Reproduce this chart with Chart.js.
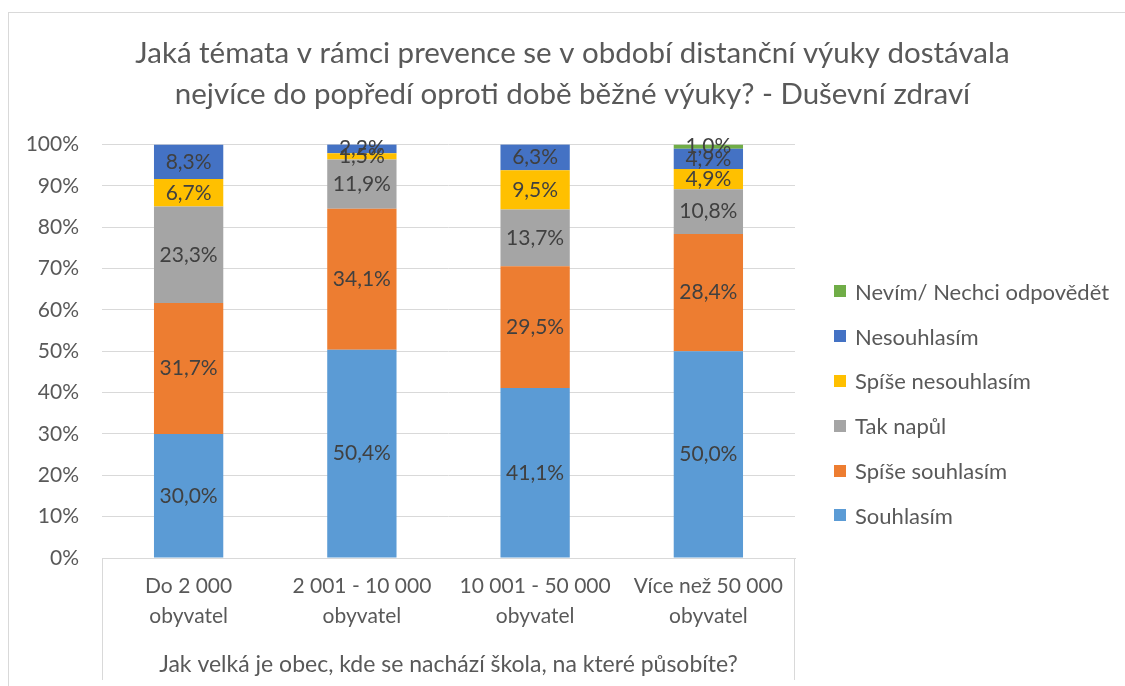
<!DOCTYPE html>
<html lang="cs">
<head>
<meta charset="utf-8">
<title>Duševní zdraví</title>
<script src="https://cdn.jsdelivr.net/npm/chart.js@4.4.0/dist/chart.umd.min.js"></script>
<style>
  html, body { margin: 0; padding: 0; background: #fff; }
  #wrap { position: relative; width: 1125px; height: 686px; overflow: hidden; }
  #legend {
    position: absolute; left: 834px; top: 269px;
    font-family: Lato, "Noto Sans", sans-serif; font-size: 22px; color: #595959;
  }
  #legend .item { display: flex; align-items: center; height: 44.8px; white-space: nowrap; }
  #legend .sw { width: 12px; height: 12px; margin-right: 9px; flex: none; }
</style>
</head>
<body>
<div id="wrap">
  <canvas id="chart" width="1125" height="686"></canvas>
  <div id="legend"></div>
</div>
<script>
// kategorie velikosti obce
const categories = [
  ['Do 2 000', 'obyvatel'],
  ['2 001 - 10 000', 'obyvatel'],
  ['10 001 - 50 000', 'obyvatel'],
  ['Více než 50 000', 'obyvatel']
];

// podíly odpovědí v % (v pořadí kategorií)
const souhlasim         = [30.0, 50.4, 41.1, 50.0];
const spiseSouhlasim    = [31.7, 34.1, 29.5, 28.4];
const takNapul          = [23.3, 11.9, 13.7, 10.8];
const spiseNesouhlasim  = [6.7, 1.5, 9.5, 4.9];
const nesouhlasim       = [8.3, 2.2, 6.3, 4.9];
const nevim             = [0, 0, 0, 1.0];

const yTicks = [0, 10, 20, 30, 40, 50, 60, 70, 80, 90, 100];

const FONT = 'Lato, "Noto Sans", sans-serif';
const TEXT = '#595959';
const GRID = '#D9D9D9';

const series = [
  { label: 'Souhlasím', data: souhlasim, color: '#5B9BD5' },
  { label: 'Spíše souhlasím', data: spiseSouhlasim, color: '#ED7D31' },
  { label: 'Tak napůl', data: takNapul, color: '#A5A5A5' },
  { label: 'Spíše nesouhlasím', data: spiseNesouhlasim, color: '#FFC000' },
  { label: 'Nesouhlasím', data: nesouhlasim, color: '#4472C4' },
  { label: 'Nevím/ Nechci odpovědět', data: nevim, color: '#70AD47' }
];

const fmtPct = v => v.toFixed(1).replace('.', ',') + '%';

// popisky hodnot uprostřed segmentů
const segmentLabels = {
  id: 'segmentLabels',
  afterDatasetsDraw(chart) {
    const ctx = chart.ctx;
    ctx.save();
    ctx.font = '21px ' + FONT;
    ctx.fillStyle = '#404040';
    ctx.textAlign = 'center';
    ctx.textBaseline = 'middle';
    chart.data.datasets.forEach((ds, i) => {
      chart.getDatasetMeta(i).data.forEach((bar, j) => {
        const v = ds.data[j];
        if (!v) return;
        ctx.fillText(fmtPct(v), bar.x, (bar.y + bar.base) / 2);
      });
    });
    ctx.restore();
  }
};

// rámeček grafu a svislé čáry u popisků osy x
const frame = {
  id: 'frame',
  beforeDraw(chart) {
    const ctx = chart.ctx;
    const a = chart.chartArea;
    ctx.save();
    ctx.strokeStyle = GRID;
    ctx.lineWidth = 1;
    ctx.strokeRect(8.5, 12.5, 2000, 2000);
    ctx.beginPath();
    ctx.moveTo(Math.round(a.left) + 0.5, a.bottom);
    ctx.lineTo(Math.round(a.left) + 0.5, 680);
    ctx.moveTo(Math.round(a.right) - 0.5, a.bottom);
    ctx.lineTo(Math.round(a.right) - 0.5, 680);
    ctx.stroke();
    ctx.restore();
  }
};

new Chart(document.getElementById('chart'), {
  type: 'bar',
  data: {
    labels: categories,
    datasets: series.map(s => ({
      label: s.label,
      data: s.data,
      backgroundColor: s.color,
      borderWidth: 0,
      categoryPercentage: 1,
      barPercentage: 0.4
    }))
  },
  options: {
    responsive: false,
    animation: false,
    layout: { padding: { left: 20, right: 0, top: 0, bottom: 0 } },
    plugins: {
      legend: { display: false },
      tooltip: { enabled: false },
      title: {
        display: true,
        text: ['Jaká témata v rámci prevence se v období distanční výuky dostávala',
               'nejvíce do popředí oproti době běžné výuky? - Duševní zdraví'],
        color: TEXT,
        font: { family: FONT, size: 29.5, weight: '400', lineHeight: 1.4 },
        padding: { top: 33, bottom: 29 }
      }
    },
    scales: {
      x: {
        stacked: true,
        grid: { display: false, drawTicks: false },
        border: { display: true, color: GRID },
        ticks: { color: TEXT, font: { family: FONT, size: 21, lineHeight: 1.4 }, padding: 14, maxRotation: 0 },
        title: {
          display: true,
          text: 'Jak velká je obec, kde se nachází škola, na které působíte?',
          color: TEXT,
          font: { family: FONT, size: 23, lineHeight: 1.2 },
          padding: { top: 0, bottom: 8 }
        },
        afterFit(scale) { scale.height = 128; }
      },
      y: {
        stacked: true,
        min: 0,
        max: 100,
        afterBuildTicks(scale) { scale.ticks = yTicks.map(v => ({ value: v })); },
        grid: { color: GRID, drawTicks: false },
        border: { display: false },
        ticks: { color: TEXT, font: { family: FONT, size: 21 }, padding: 23, callback: v => v + '%' },
        afterFit(scale) { scale.width = 82; }
      },
      spacer: {
        position: 'right',
        display: true,
        grid: { display: false },
        border: { display: false },
        ticks: { display: false },
        afterFit(scale) { scale.width = 330; }
      }
    }
  },
  plugins: [frame, segmentLabels]
});

// legenda vpravo, pořadí od horní řady
const legendEl = document.getElementById('legend');
series.slice().reverse().forEach(s => {
  const item = document.createElement('div');
  item.className = 'item';
  const sw = document.createElement('span');
  sw.className = 'sw';
  sw.style.background = s.color;
  const txt = document.createElement('span');
  txt.textContent = s.label;
  item.appendChild(sw);
  item.appendChild(txt);
  legendEl.appendChild(item);
});
</script>
</body>
</html>
